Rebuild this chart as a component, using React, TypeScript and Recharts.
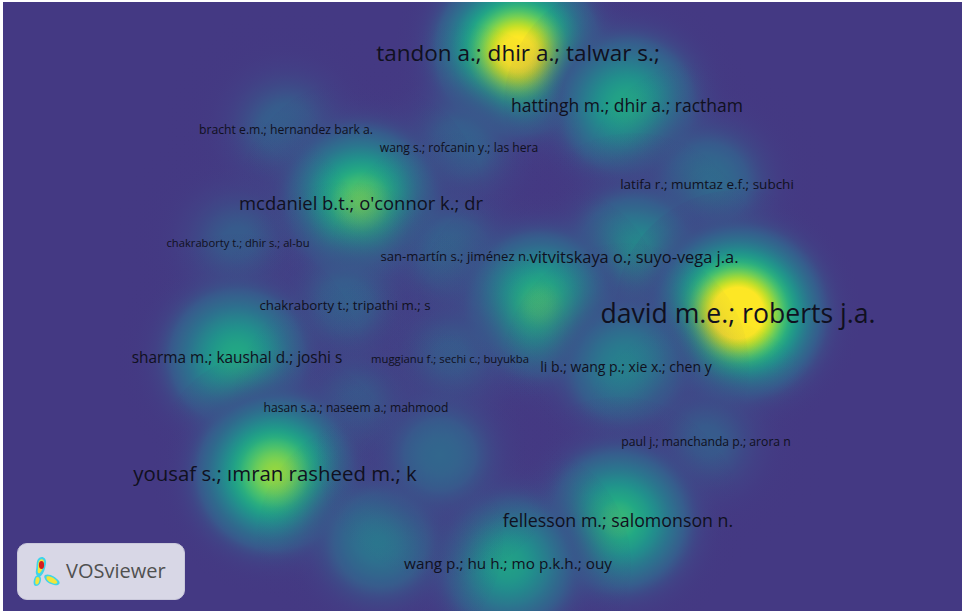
import { ScatterChart, Scatter, XAxis, YAxis } from "recharts";

// VOSviewer density map: item positions are in map units (same scale as the picture)
const labels = [
  "tandon a.; dhir a.; talwar s.;",
  "hattingh m.; dhir a.; ractham",
  "bracht e.m.; hernandez bark a.",
  "wang s.; rofcanin y.; las hera",
  "latifa r.; mumtaz e.f.; subchi",
  "mcdaniel b.t.; o'connor k.; dr",
  "chakraborty t.; dhir s.; al-bu",
  "san-martín s.; jiménez n.",
  "vitvitskaya o.; suyo-vega j.a.",
  "",
  "david m.e.; roberts j.a.",
  "chakraborty t.; tripathi m.; s",
  "sharma m.; kaushal d.; joshi s",
  "muggianu f.; sechi c.; buyukba",
  "li b.; wang p.; xie x.; chen y",
  "hasan s.a.; naseem a.; mahmood",
  "paul j.; manchanda p.; arora n",
  "yousaf s.; ımran rasheed m.; k",
  "fellesson m.; salomonson n.",
  "wang p.; hu h.; mo p.k.h.; ouy",
  "",
  "",
];
const posX = [518, 627, 286, 459, 707, 361, 238, 455, 634, 540, 738, 345, 237, 450, 626, 356, 706, 275, 618, 508, 380, 440];
const posY = [52, 105, 129, 147, 184, 202, 242, 256, 256, 305, 313, 305, 357, 358, 366, 407, 441, 473, 520, 563, 540, 455];
// label weight (drives label size)
const weight = [135, 85, 32, 31, 45, 94, 22, 41, 74, 0, 176, 43, 64, 23, 50, 31, 32, 114, 88, 63, 0, 0];
// density value at each item
const density = [0.92, 0.43, 0.15, 0.15, 0.2, 0.6, 0.13, 0.17, 0.34, 0.52, 1.02, 0.15, 0.44, 0.13, 0.28, 0.13, 0.13, 0.68, 0.5, 0.4, 0.24, 0.17];

const items = labels.map((label, i) => ({
  id: i,
  label,
  x: posX[i],
  y: posY[i],
  weight: weight[i],
  density: density[i],
}));

const viridis = [
  "#440154", "#482475", "#414487", "#355f8d", "#2a788e", "#21918c",
  "#22a884", "#44bf70", "#7ad151", "#bddf26", "#fde725",
];
const BG = 0.16;
const SIGMA = 41;

function hex(c: string) {
  return [1, 3, 5].map((k) => parseInt(c.slice(k, k + 2), 16));
}
function viridisAt(v: number) {
  const t = Math.max(0, Math.min(1, v)) * 10;
  const i = Math.min(9, Math.floor(t));
  const f = t - i;
  const a = hex(viridis[i]);
  const b = hex(viridis[i + 1]);
  const c = a.map((ai, k) => Math.round(ai + (b[k] - ai) * f));
  return `rgb(${c[0]},${c[1]},${c[2]})`;
}

const Blob = (props: any) => {
  const { cx, cy, payload } = props;
  const R = SIGMA * 3;
  const id = `dens-${payload.id}`;
  const stops = [];
  for (let s = 0; s <= 24; s++) {
    const t = s / 24;
    const r = t * R;
    const v = BG + payload.density * Math.exp(-(r * r) / (2 * SIGMA * SIGMA));
    const op = Math.max(0, Math.min(1, (v - BG) / 0.12));
    stops.push(<stop key={s} offset={`${t * 100}%`} stopColor={viridisAt(v)} stopOpacity={op} />);
  }
  return (
    <g>
      <defs>
        <radialGradient id={id} cx="50%" cy="50%" r="50%">
          {stops}
        </radialGradient>
      </defs>
      <circle cx={cx} cy={cy} r={R} fill={`url(#${id})`} />
    </g>
  );
};

const Label = (props: any) => {
  const { cx, cy, payload } = props;
  if (!payload.label) return <g />;
  return (
    <text
      x={cx}
      y={cy}
      textAnchor="middle"
      dominantBaseline="central"
      fontFamily="'Open Sans', sans-serif"
      fontSize={9 + payload.weight / 10}
      fill="#101020"
    >
      {payload.label}
    </text>
  );
};

export default function App() {
  return (
    <div style={{ position: "fixed", left: 0, top: 0, width: 965, height: 613, background: "#fff" }}>
      <div style={{ position: "absolute", left: 3, top: 2, width: 959, height: 609, background: "#443983", overflow: "hidden" }}>
        <ScatterChart width={959} height={609} margin={{ top: 0, right: 0, bottom: 0, left: 0 }}>
          <XAxis type="number" dataKey="x" domain={[3, 962]} hide />
          <YAxis type="number" dataKey="y" domain={[2, 611]} reversed hide />
          <Scatter data={items} shape={<Blob />} isAnimationActive={false} />
          <Scatter data={items} shape={<Label />} isAnimationActive={false} />
        </ScatterChart>
      </div>
      <div
        style={{
          position: "absolute",
          left: 17,
          top: 543,
          width: 166,
          height: 55,
          borderRadius: 10,
          background: "#d8d7e6",
          border: "1px solid #c9c8da",
        }}
      >
        <svg width="30" height="36" style={{ position: "absolute", left: 14, top: 10 }} viewBox="0 0 30 34">
          <path d="M6 4 C9 0 15 2 14 9 C13 14 12 18 9 21 C6 23 3 20 4 15 C5 11 4 7 6 4 Z" fill="#3fd4ea" />
          <path d="M7 6 C9 3 13 4 12 9 C11 13 10 16 8 18 C6 19 5 17 6 14 C6 11 6 8 7 6 Z" fill="#f2e53a" />
          <ellipse cx="9.5" cy="10" rx="2.6" ry="4" fill="#d31f1f" />
          <path d="M3 22 C5 19 9 20 9 24 C9 28 7 31 4 31 C1 31 1 26 3 22 Z" fill="#3fd4ea" />
          <path d="M4 23 C5 21 8 22 7.5 25 C7 28 6 29.5 4.5 29.5 C3 29.5 3 26 4 23 Z" fill="#f2e53a" />
          <path d="M13 20 C17 18 24 22 27 26 C29 29 26 31 22 30 C18 29 14 27 13 24 C12 22 12 21 13 20 Z" fill="#3fd4ea" />
          <path d="M14.5 21.5 C18 20.5 23 23.5 25 26.5 C26 28.5 24 29 21.5 28.5 C18 27.5 15 25.5 14.5 23.5 Z" fill="#f2e53a" />
        </svg>
        <span
          style={{
            position: "absolute",
            left: 48,
            top: 13,
            fontFamily: "'Open Sans', sans-serif",
            fontSize: 20,
            color: "#505050",
          }}
        >
          VOSviewer
        </span>
      </div>
    </div>
  );
}
